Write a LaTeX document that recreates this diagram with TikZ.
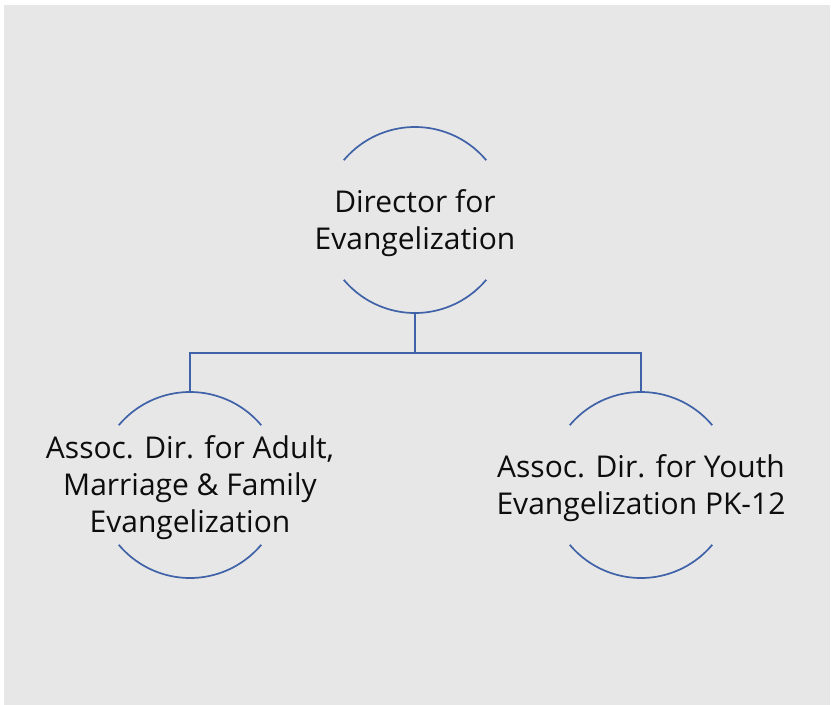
\documentclass[tikz,border=0pt]{standalone}
\usepackage{fontspec}
\setmainfont{Open Sans}
\definecolor{bgGray}{HTML}{E7E7E7}
\definecolor{lineBlue}{HTML}{3F62A8}
\definecolor{txt}{HTML}{0D0D0D}
\begin{document}
\begin{tikzpicture}[x=1pt,y=1pt,
  ring/.style={circle,minimum size=186pt,inner sep=0pt,outer sep=0pt},
  label/.style={align=center,text=txt,inner sep=0pt,yshift=-3pt,
    font=\fontsize{30pt}{37pt}\selectfont},
  arcline/.style={draw=lineBlue,line width=1.7pt},
  link/.style={draw=lineBlue,line width=1.7pt}]
\useasboundingbox (0,0) rectangle (831,-705);
\fill[white] (0,0) rectangle (831,-705);
\fill[bgGray] (4,-5) rectangle (830,-705);
\node[ring] (dir) at (415,-220) {};
\node[ring] (adult) at (190,-485) {};
\node[ring] (youth) at (641,-485) {};
\node[label] (dirT) at (dir.center) {Director for\\Evangelization};
\node[label] (adultT) at (adult.center) {Assoc. Dir. for Adult,\\Marriage \& Family\\Evangelization};
\node[label] (youthT) at (youth.center) {Assoc. Dir. for Youth\\Evangelization PK-12};
\foreach \n in {dir,adult,youth}{
  \draw[arcline] (\n.40) arc (40:140:93);
  \draw[arcline] (\n.220) arc (220:320:93);
}
\coordinate (bar) at (415,-353);
\draw[link] (dir.south) -- (bar);
\draw[link] (bar) -| (adult.north);
\draw[link] (bar) -| (youth.north);
\end{tikzpicture}
\end{document}
